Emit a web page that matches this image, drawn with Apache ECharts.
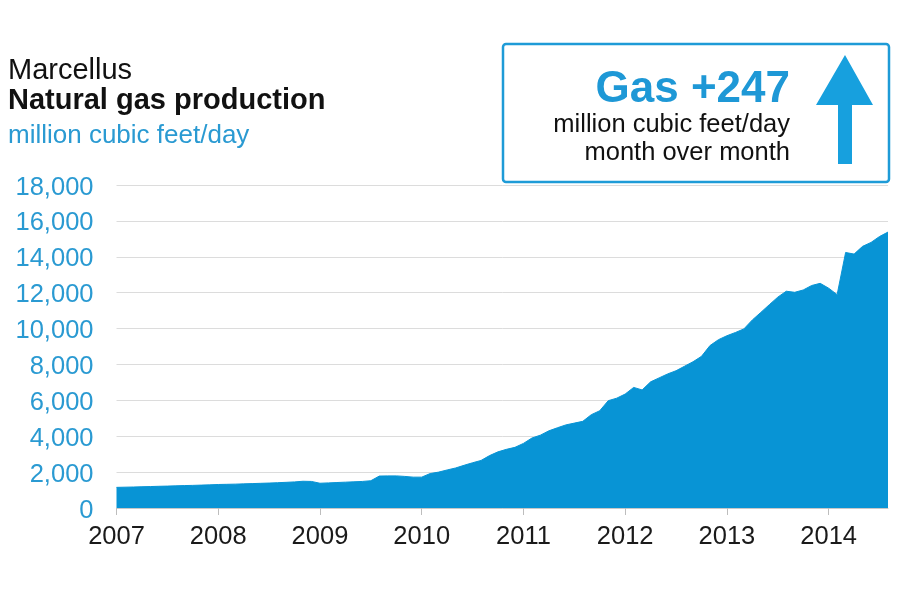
<!DOCTYPE html>
<html>
<head>
<meta charset="utf-8">
<script src="https://cdn.jsdelivr.net/npm/echarts@6/dist/echarts.min.js"></script>
<style>html,body{margin:0;padding:0;background:#fff}#c{width:900px;height:600px}</style>
</head>
<body>
<div id="c"></div>
<script>
// Monthly categories Jan 2007 .. Aug 2014
var startYear = 2007, endYear = 2014, endMonth = 8;
var months = [];
for (var y = startYear; y <= endYear; y++) {
  for (var m = 1; m <= 12; m++) {
    if (y === endYear && m > endMonth) break;
    months.push(y + '-' + (m < 10 ? '0' + m : m));
  }
}
// Natural gas production, million cubic feet/day
var production = [
  1150, 1160, 1170, 1185, 1195, 1210, 1220, 1235, 1250, 1260, 1275, 1290,
  1310, 1320, 1330, 1345, 1360, 1375, 1390, 1410, 1430, 1455, 1490, 1480,
  1380, 1400, 1420, 1440, 1460, 1480, 1520, 1780, 1790, 1790, 1760, 1720,
  1720, 1920, 2000, 2120, 2230, 2380, 2520, 2650, 2920, 3130, 3270, 3380,
  3600, 3900, 4060, 4300, 4470, 4630, 4730, 4830, 5200, 5420, 5980, 6120,
  6350, 6720, 6580, 7030, 7250, 7470, 7650, 7900, 8150, 8450, 9050, 9380,
  9600, 9780, 9980, 10480, 10900, 11330, 11750, 12080, 12020, 12150, 12400, 12520,
  12250, 11890, 14240, 14150, 14580, 14800, 15130, 15377
];
var yTicks = [0, 2000, 4000, 6000, 8000, 10000, 12000, 14000, 16000, 18000];

var FONT = "'Liberation Sans', Arial, sans-serif";
var BLUE = '#0894d5';
var LABEL_BLUE = '#2a9ad2';

var chart = echarts.init(document.getElementById('c'), null, {renderer: 'canvas'});
chart.setOption({
  animation: false,
  backgroundColor: '#fff',
  grid: {left: 116.5, right: 12, top: 185, bottom: 92, containLabel: false},
  xAxis: {
    type: 'category',
    data: months,
    boundaryGap: false,
    axisLine: {show: true, lineStyle: {color: '#c8c8c8', width: 1}},
    axisTick: {show: true, length: 7, lineStyle: {color: '#bdbdbd'},
      interval: function (i, v) { return v.slice(5) === '01'; }},
    axisLabel: {show: true, margin: 16, fontFamily: FONT, fontSize: 25.5, color: '#1a1a1a',
      interval: function (i, v) { return v.slice(5) === '01'; },
      formatter: function (v) { return v.slice(0, 4); }},
    splitLine: {show: false}
  },
  yAxis: {
    type: 'value',
    min: yTicks[0],
    max: yTicks[yTicks.length - 1],
    interval: yTicks[1] - yTicks[0],
    axisLine: {show: false},
    axisTick: {show: false},
    axisLabel: {margin: 23, fontFamily: FONT, fontSize: 25.5, color: LABEL_BLUE,
      formatter: function (v) { return '{t|' + v.toLocaleString('en-US') + '}'; },
      rich: {t: {fontFamily: FONT, fontSize: 25.5, color: LABEL_BLUE, padding: [5, 0, 0, 0]}}},
    splitLine: {show: true, lineStyle: {color: '#dcdcdc', width: 1}}
  },
  series: [{
    type: 'line',
    data: production,
    showSymbol: false,
    symbol: 'none',
    lineStyle: {color: BLUE, width: 1},
    areaStyle: {color: BLUE, opacity: 1},
    z: 3
  }],
  graphic: [
    {type: 'text', style: {x: 8, y: 71, text: 'Marcellus', font: '29px ' + FONT, fill: '#111', textAlign: 'left', textVerticalAlign: 'middle'}},
    {type: 'text', style: {x: 8, y: 101, text: 'Natural gas production', font: 'bold 29px ' + FONT, fill: '#111', textAlign: 'left', textVerticalAlign: 'middle'}},
    {type: 'text', style: {x: 8, y: 136, text: 'million cubic feet/day', font: '26px ' + FONT, fill: LABEL_BLUE, textAlign: 'left', textVerticalAlign: 'middle'}},
    {type: 'rect', shape: {x: 503, y: 44, width: 386, height: 138, r: 3}, style: {fill: '#fff', stroke: '#1e9bd7', lineWidth: 2.5}},
    {type: 'text', style: {x: 790, y: 89.5, text: 'Gas +247', font: 'bold 44px ' + FONT, fill: '#1e98d6', textAlign: 'right', textVerticalAlign: 'middle'}},
    {type: 'text', style: {x: 790, y: 124.5, text: 'million cubic feet/day', font: '25.5px ' + FONT, fill: '#111', textAlign: 'right', textVerticalAlign: 'middle'}},
    {type: 'text', style: {x: 790, y: 153, text: 'month over month', font: '25.5px ' + FONT, fill: '#111', textAlign: 'right', textVerticalAlign: 'middle'}},
    {type: 'polygon', shape: {points: [[845, 55], [873, 105], [852, 105], [852, 164], [838, 164], [838, 105], [816, 105]]}, style: {fill: '#17a0de'}}
  ]
});
</script>
</body>
</html>
